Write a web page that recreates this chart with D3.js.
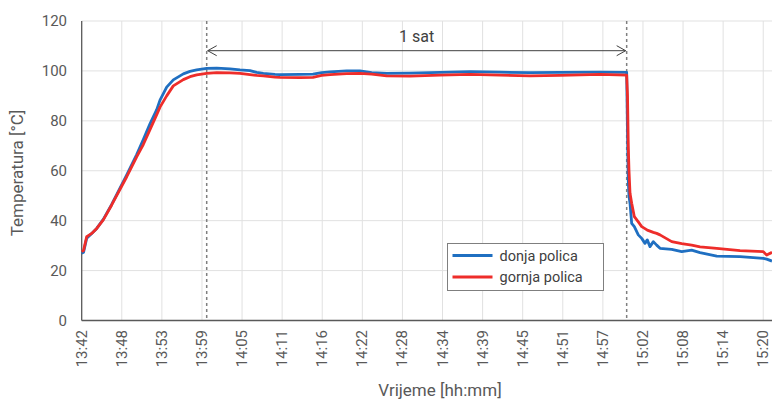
<!DOCTYPE html>
<html>
<head>
<meta charset="utf-8">
<script src="https://cdn.jsdelivr.net/npm/d3@7"></script>
<style>
  body { margin: 0; background: #fff; }
  svg { font-family: Roboto, "Noto Sans", sans-serif; }
</style>
</head>
<body>
<svg width="772" height="400"></svg>
<script>
// mjerenje krece u 13:42:18, vrijeme u minutama od pocetka
var startMin = 13 * 60 + 42.3;
var elapsed = [0, 0.26, 0.72, 1.44, 2.16, 3.10, 4.31, 6.47, 7.90, 8.85, 9.81, 10.78, 11.25, 12.21,
    13.16, 14.60, 15.56, 16.52, 17.96, 19.40, 21.31, 22.74, 24.18, 25.14, 26.09, 27.77, 28.49,
    31.36, 33.23, 34.48, 35.68, 38.07, 39.98, 41.67, 43.82, 47.17, 51.48, 55.79, 60.10, 64.41,
    68.72, 74.47, 78.30, 78.42, 78.53, 78.63, 78.78, 79.02, 79.40, 79.97, 80.46, 80.93, 81.26,
    81.65, 82.13, 82.61, 83.09, 84.77, 86.21, 87.64, 88.84, 91.24, 94.59, 97.93, 98.42, 99.18];
var donja = [26.9, 27.3, 33.0, 34.9, 36.9, 40.5, 46.5, 58.3, 66.5, 72.5, 78.8, 84.5, 88.3, 93.5,
    96.4, 98.8, 99.8, 100.4, 101.0, 101.1, 100.8, 100.4, 100.1, 99.4, 99.0, 98.6, 98.5,
    98.6, 98.7, 99.3, 99.6, 100.0, 100.0, 99.3, 99.0, 99.1, 99.4, 99.7, 99.5, 99.3,
    99.4, 99.5, 99.4, 75, 56, 50, 47, 38.9, 37.6, 34.3, 32.9, 30.9, 32.3,
    29.6, 31.6, 30.2, 28.9, 28.5, 27.6, 28.2, 27.2, 25.8, 25.6, 24.9, 24.6, 23.8];
var gornja = [27.6, 28.0, 33.6, 34.9, 36.9, 40.3, 46.3, 57.6, 65.6, 70.5, 76.5, 82.5, 85.5, 90.0,
    94.0, 96.5, 97.7, 98.4, 99.0, 99.3, 99.2, 99.0, 98.5, 98.2, 98.0, 97.5, 97.4,
    97.3, 97.4, 98.2, 98.5, 98.9, 99.0, 98.7, 98.0, 97.9, 98.3, 98.6, 98.3, 98.0,
    98.2, 98.6, 98.3, 90, 70, 60.3, 51, 47, 41.6, 39.5, 37.6, 36.8, 36.2,
    35.8, 35.3, 34.9, 34.3, 31.6, 30.8, 30.2, 29.5, 28.9, 28.0, 27.6, 26.2, 27.3];
var seriesNames = ["donja polica", "gornja polica"];
var seriesColors = ["#1f6fc1", "#ee2d2a"];
var yTicks = [0, 20, 40, 60, 80, 100, 120];
var tickStep = 5.76;          // razmak oznaka na osi x (min)
var markers = [17.96, 78.30]; // pocetak i kraj 1 sata

function main() {
    var svg = d3.select("svg");
    var left = 81.7, right = 772, top = 21, bottom = 320.5;

    var x = d3.scaleLinear().domain([0, 99.18]).range([left, right]);
    var y = d3.scaleLinear().domain([0, 120]).range([bottom, top]);

    var xTicks = d3.range(0, 18).map(function(i) { return i * tickStep; });
    function fmt(e) {
        var m = Math.floor(startMin + e + 1e-6);
        return Math.floor(m / 60) + ":" + d3.format("02")(m % 60);
    }

    // mreza
    svg.append("g").selectAll("line").data(yTicks).enter().append("line")
        .attr("x1", left).attr("x2", right)
        .attr("y1", function(d) { return y(d); }).attr("y2", function(d) { return y(d); })
        .attr("stroke", "#e1e1e1").attr("stroke-width", 1);
    svg.append("g").selectAll("line").data(xTicks.slice(1)).enter().append("line")
        .attr("x1", function(d) { return x(d); }).attr("x2", function(d) { return x(d); })
        .attr("y1", top).attr("y2", bottom)
        .attr("stroke", "#e1e1e1").attr("stroke-width", 1);

    // osi
    svg.append("line").attr("x1", left).attr("x2", left).attr("y1", top).attr("y2", bottom)
        .attr("stroke", "#595959").attr("stroke-width", 1.3);
    svg.append("line").attr("x1", left).attr("x2", right).attr("y1", bottom).attr("y2", bottom)
        .attr("stroke", "#595959").attr("stroke-width", 1.3);

    svg.append("g").selectAll("text").data(yTicks).enter().append("text")
        .attr("x", 67).attr("y", function(d) { return y(d) + 5; })
        .attr("text-anchor", "end").attr("font-size", "15px").attr("fill", "#595959")
        .text(function(d) { return d; });

    svg.append("g").selectAll("text").data(xTicks).enter().append("text")
        .attr("transform", function(d) { return "translate(" + (x(d) + 5) + ",330) rotate(-90)"; })
        .attr("text-anchor", "end").attr("font-size", "15px").attr("fill", "#595959")
        .text(function(d) { return fmt(d); });

    svg.append("text")
        .attr("transform", "translate(23,173) rotate(-90)")
        .attr("text-anchor", "middle").attr("font-size", "17px").attr("fill", "#595959")
        .text("Temperatura [°C]");
    svg.append("text")
        .attr("x", 440).attr("y", 396)
        .attr("text-anchor", "middle").attr("font-size", "17px").attr("fill", "#595959")
        .text("Vrijeme [hh:mm]");

    // isprekidane linije
    svg.append("g").selectAll("line").data(markers).enter().append("line")
        .attr("x1", function(d) { return x(d); }).attr("x2", function(d) { return x(d); })
        .attr("y1", top).attr("y2", bottom)
        .attr("stroke", "#7f7f7f").attr("stroke-width", 1.5).attr("stroke-dasharray", "3,3");

    // krivulje
    var line = d3.line()
        .x(function(d) { return x(d[0]); })
        .y(function(d) { return y(d[1]); });
    [donja, gornja].forEach(function(vals, i) {
        svg.append("path")
            .datum(elapsed.map(function(e, j) { return [e, vals[j]]; }))
            .attr("fill", "none")
            .attr("stroke", seriesColors[i])
            .attr("stroke-width", 2.8)
            .attr("stroke-linejoin", "round")
            .attr("d", line);
    });

    // strelica "1 sat"
    var ay = 50.7, x1 = x(markers[0]) + 1, x2 = x(markers[1]) - 1;
    svg.append("line").attr("x1", x1).attr("x2", x2).attr("y1", ay).attr("y2", ay)
        .attr("stroke", "#404040").attr("stroke-width", 1);
    svg.append("path")
        .attr("d", "M" + (x1 + 9) + "," + (ay - 5) + "L" + x1 + "," + ay + "L" + (x1 + 9) + "," + (ay + 5) +
                   "M" + (x2 - 9) + "," + (ay - 5) + "L" + x2 + "," + ay + "L" + (x2 - 9) + "," + (ay + 5))
        .attr("fill", "none").attr("stroke", "#404040").attr("stroke-width", 1);
    svg.append("text")
        .attr("x", (x1 + x2) / 2).attr("y", 42)
        .attr("text-anchor", "middle").attr("font-size", "16px").attr("fill", "#404040")
        .text("1 sat");

    // legenda
    var lg = svg.append("g").attr("transform", "translate(447.5,243.5)");
    lg.append("rect").attr("width", 156).attr("height", 47)
        .attr("fill", "#fff").attr("stroke", "#7f7f7f").attr("stroke-width", 1);
    seriesNames.forEach(function(n, i) {
        var ly = 12 + i * 21.5;
        lg.append("line").attr("x1", 5).attr("x2", 45).attr("y1", ly).attr("y2", ly)
            .attr("stroke", seriesColors[i]).attr("stroke-width", 2.8);
        lg.append("text").attr("x", 52).attr("y", ly + 5)
            .attr("font-size", "14.5px").attr("fill", "#404040").text(n);
    });
}
main();
</script>
</body>
</html>
